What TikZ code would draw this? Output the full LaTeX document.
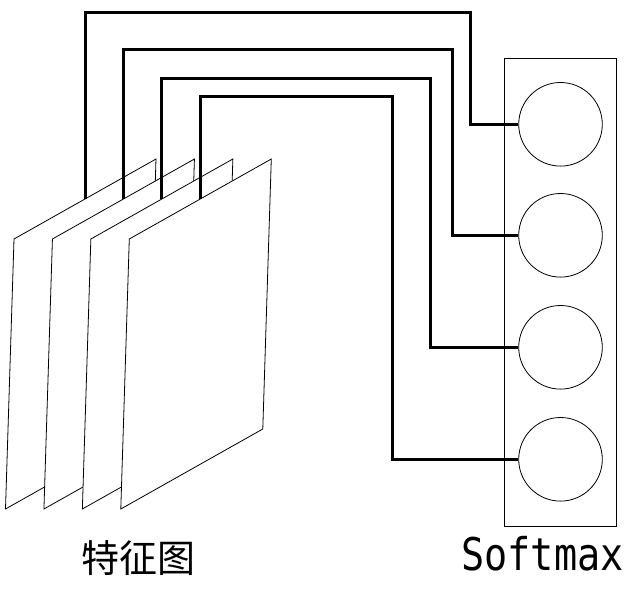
\documentclass[tikz,border=0pt]{standalone}
\usepackage{fontspec}
\usetikzlibrary{calc}
\newfontfamily\cjkfont{Noto Sans CJK SC}
\newfontfamily\monofont{DejaVu Sans Mono}
\begin{document}
\begin{tikzpicture}[x=1pt,y=-1pt,
  thinline/.style={line width=0.8pt, black},
  sheet/.style={thinline, fill=white, line join=miter},
  conn/.style={line width=3pt, black, line join=miter},
  unit/.style={circle, draw, thinline, minimum size=83.6pt, inner sep=0pt},
  lbl/.style={inner sep=0pt, anchor=center}]
\useasboundingbox (0,0) rectangle (642,591);
% softmax box
\node[draw, thinline, minimum width=111.6pt, minimum height=467.7pt, inner sep=0pt] (box) at (560.5,292.2) {};
\node[unit] (c1) at (560.5,124.3) {};
\node[unit] (c2) at (560.5,235.3) {};
\node[unit] (c3) at (560.5,347.3) {};
\node[unit] (c4) at (560.5,459.3) {};
% sheets
\foreach \i in {0,1,2,3}{
  \pgfmathsetmacro{\xx}{14+38.43*\i}
  \coordinate (tl\i) at (\xx,239);
  \draw[sheet] (tl\i) -- ++(142,-80) -- ++(-8.5,270) -- ++(-142,80) -- cycle;
  \coordinate (a\i) at ($(tl\i)+(71,-40)$);
}
% turning points
\coordinate (t0) at (470.7,12.7);
\coordinate (t1) at (452.3,50);
\coordinate (t2) at (430,78.3);
\coordinate (t3) at (392.3,97);
\draw[conn] (a0) |- (t0) |- (c1.west);
\draw[conn] (a1) |- (t1) |- (c2.west);
\draw[conn] (a2) |- (t2) |- (c3.west);
\draw[conn] (a3) |- (t3) |- (c4.west);
% labels
\node[lbl] (l1) at (138,558.5) {\cjkfont\fontsize{38}{40}\selectfont 特征图};
\node[lbl, anchor=base] (l2) at (542.5,570) {\scalebox{1}[1.17]{\monofont\fontsize{38.5}{40}\selectfont Softmax}};
\end{tikzpicture}
\end{document}
